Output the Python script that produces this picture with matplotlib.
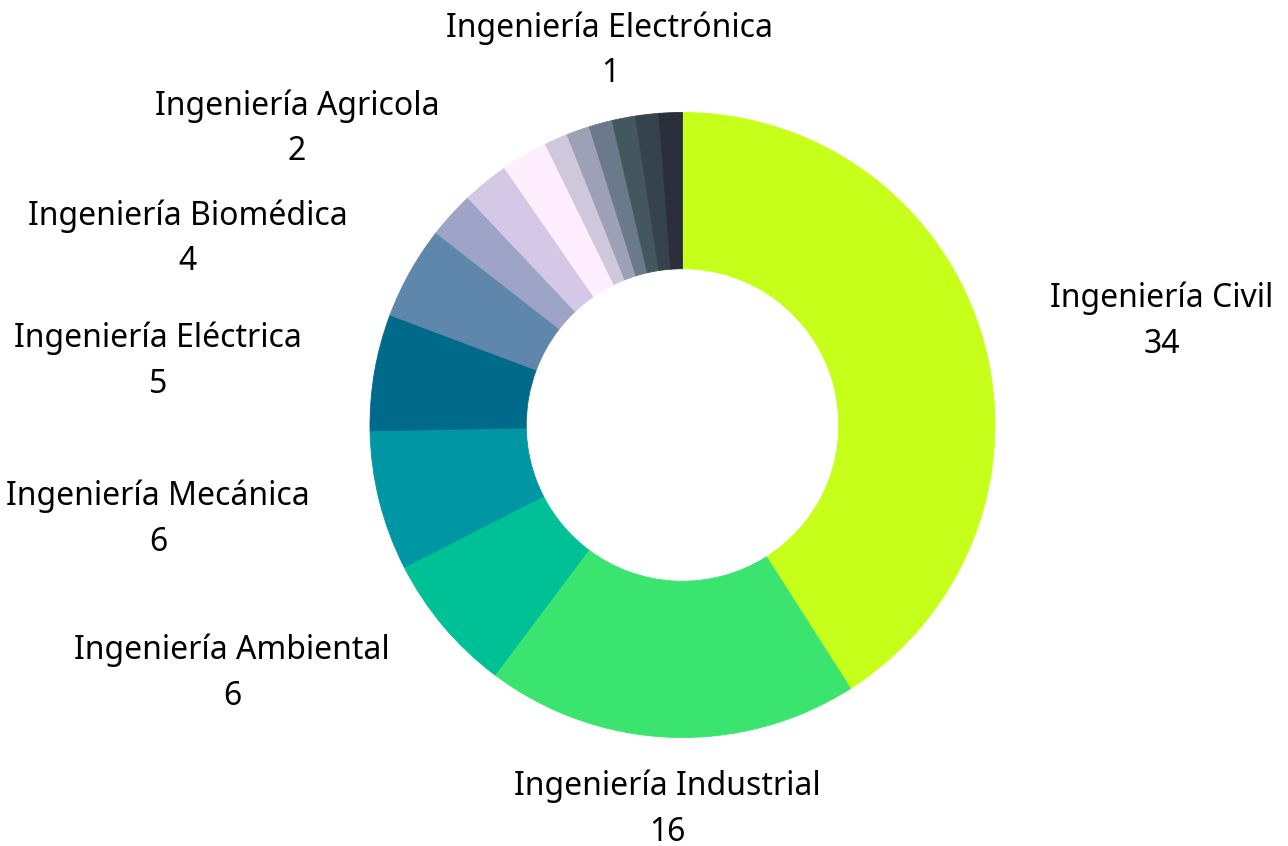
import matplotlib
matplotlib.use("Agg")
import matplotlib.pyplot as plt

plt.rcParams['font.family'] = ['Noto Sans', 'DejaVu Sans']

# Datos: carreras de ingeniería (sentido horario desde arriba)
carreras = ["Ingeniería Civil", "Ingeniería Industrial", "Ingeniería Ambiental",
            "Ingeniería Mecánica", "Ingeniería Eléctrica", "Ingeniería Biomédica",
            "Ingeniería Agricola", "", "", "", "", "", "", "",
            "Ingeniería Electrónica"]
valores = [34, 16, 6, 6, 5, 4, 2, 2, 2, 1, 1, 1, 1, 1, 1]
colores = ["#c6ff1a", "#3be46f", "#00c096", "#0096a3", "#006a8a", "#5f86ab",
           "#9da4c8", "#d4c8e6", "#ffeefd", "#cfc8dc", "#9ea0b5", "#6b7a8a",
           "#44575f", "#36424d", "#2b2e3b"]

# posiciones de etiqueta (pixeles del centro del nombre) para las que se muestran
pos_etiquetas = {
    "Ingeniería Civil": (1162, 298),
    "Ingeniería Industrial": (667, 786),
    "Ingeniería Ambiental": (232, 650),
    "Ingeniería Mecánica": (158, 496),
    "Ingeniería Eléctrica": (158, 338),
    "Ingeniería Biomédica": (188, 216),
    "Ingeniería Agricola": (297, 106),
    "Ingeniería Electrónica": (610, 28),
}

W, H = 1288, 846
cx, cy, R = 682.5, 425, 312.5

fig = plt.figure(figsize=(W / 100, H / 100), dpi=100)
ax = fig.add_axes([(cx - R) / W, (H - cy - R) / H, 2 * R / W, 2 * R / H])
wedges, _ = ax.pie(valores, colors=colores, startangle=90, counterclock=False,
                   radius=1, wedgeprops=dict(width=0.5, linewidth=0.6))
for w in wedges:
    w.set_edgecolor(w.get_facecolor())
ax.set_xlim(-1, 1)
ax.set_ylim(-1, 1)
ax.set_aspect("equal")
ax.axis("off")

fs = 23
for nombre, v in zip(carreras, valores):
    if nombre not in pos_etiquetas:
        continue
    px, py = pos_etiquetas[nombre]
    x = (px - cx) / R
    y = (cy - py) / R
    ax.text(x, y, nombre, ha="center", va="center", fontsize=fs,
            color="#000000", clip_on=False)
    ax.text(x, y - 46 / R, str(v), ha="center", va="center", fontsize=fs,
            color="#000000", clip_on=False)

fig.savefig("out.png", dpi=100)
